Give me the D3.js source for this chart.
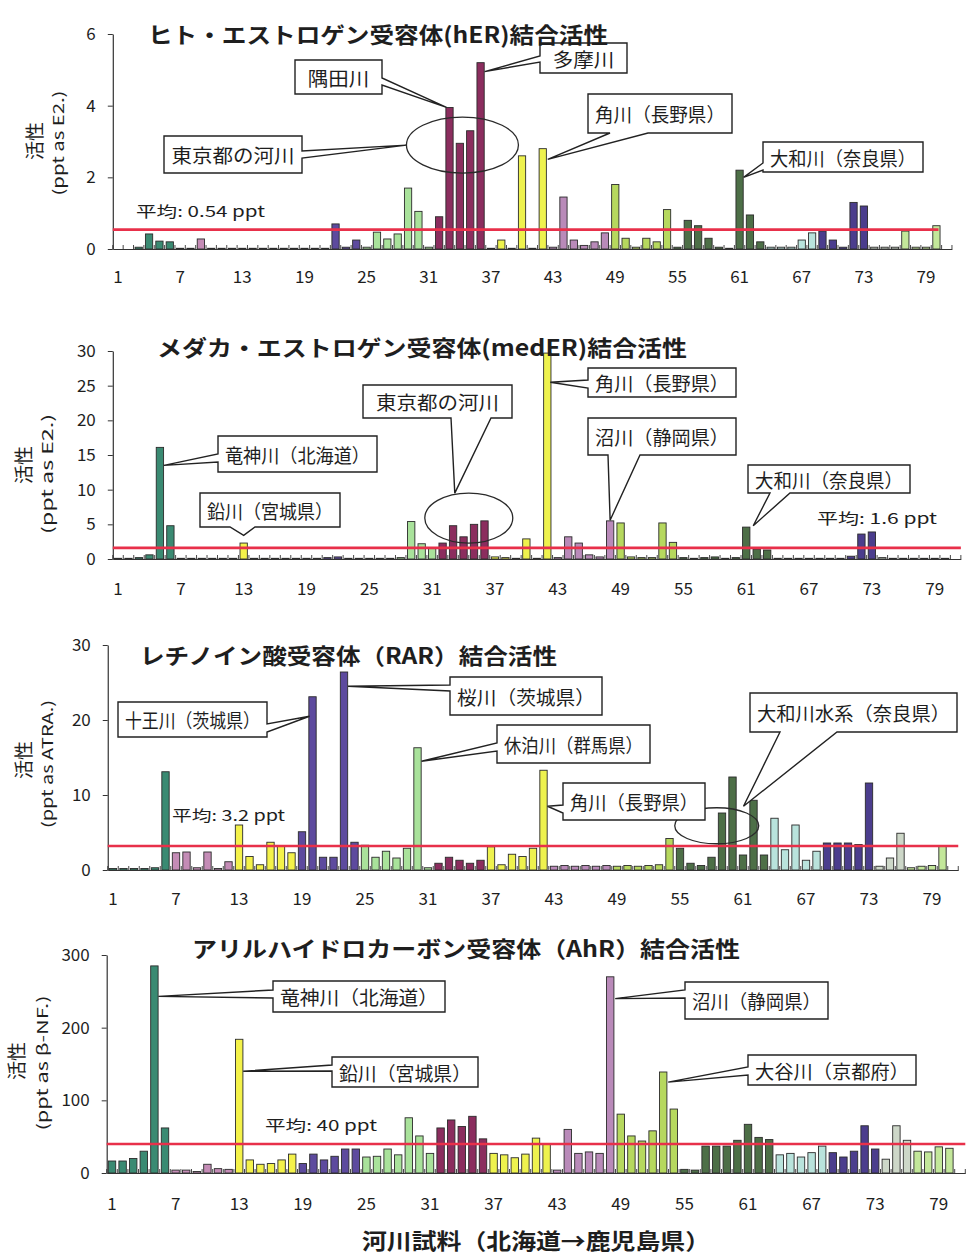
<!DOCTYPE html>
<html>
<head>
<meta charset="utf-8">
<script src="https://cdn.jsdelivr.net/npm/d3@7"></script>
<style>
  body { margin: 0; background: #fff; }
  svg text { font-family: "Noto Sans CJK JP", "Noto Sans", sans-serif; fill: #1e1e1e; }
</style>
</head>
<body>
<svg id="chart" width="970" height="1260"></svg>
<script>
// ---- data: 80 river samples, ordered Hokkaido -> Kagoshima ----
const samples = d3.range(1, 81);

// human estrogen receptor (hER) binding activity, ppt as E2
const herValues = [
  0, 0, 0.05, 0.42, 0.22, 0.2, 0.02, 0.02, 0.28, 0.02,
  0.02, 0.02, 0.02, 0.02, 0.02, 0.02, 0.02, 0.02, 0.02, 0.02,
  0.02, 0.7, 0.05, 0.25, 0.05, 0.47, 0.28, 0.42, 1.7, 1.05,
  0.05, 0.9, 3.95, 2.95, 3.3, 5.2, 0.02, 0.25, 0.02, 2.6,
  0.02, 2.8, 0.05, 1.45, 0.25, 0.1, 0.2, 0.45, 1.8, 0.3,
  0.05, 0.3, 0.2, 1.1, 0.05, 0.8, 0.65, 0.3, 0.05, 0.02,
  2.2, 0.95, 0.2, 0.05, 0.05, 0.05, 0.25, 0.45, 0.5, 0.25,
  0.05, 1.3, 1.2, 0.05, 0.05, 0.05, 0.5, 0.05, 0.05, 0.65
];
// medaka estrogen receptor (medER) binding activity, ppt as E2
const mederValues = [
  0.1, 0.1, 0.2, 0.6, 16.1, 4.8, 0.1, 0.1, 0.1, 0.1,
  0.1, 0.1, 2.3, 0.1, 0.1, 0.1, 0.1, 0.1, 0.1, 0.1,
  0.2, 0.3, 0.1, 0.1, 0.1, 0.1, 0.1, 0.2, 5.4, 2.2,
  1.5, 2.3, 4.8, 3.2, 5.0, 5.5, 0.3, 0.2, 0.1, 2.9,
  0.1, 29.7, 0.2, 3.2, 2.3, 0.6, 0.3, 5.5, 5.2, 0.3,
  0.2, 0.2, 5.2, 2.4, 0.2, 0.1, 0.2, 0.3, 0.1, 0.2,
  4.6, 1.4, 1.3, 0.1, 0.1, 0.1, 0.1, 0.1, 0.1, 0.1,
  0.4, 3.6, 3.9, 0.2, 0.1, 0.1, 0.1, 0.1, 0.1, 0.1
];
// retinoic acid receptor (RAR) binding activity, ppt as ATRA
const rarValues = [
  0.2, 0.2, 0.2, 0.2, 0.3, 13.1, 2.3, 2.4, 0.3, 2.4,
  0.2, 1.1, 6.0, 1.8, 0.7, 3.7, 3.2, 2.3, 5.1, 23.1,
  1.7, 1.7, 26.4, 3.7, 3.3, 1.7, 2.5, 1.6, 2.9, 16.3,
  0.3, 0.9, 1.7, 1.3, 0.9, 1.3, 3.1, 0.7, 2.1, 1.8,
  2.9, 13.3, 0.5, 0.6, 0.5, 0.6, 0.5, 0.6, 0.5, 0.6,
  0.5, 0.6, 0.7, 4.2, 2.9, 0.9, 0.6, 1.7, 7.6, 12.4,
  2.0, 9.3, 2.0, 6.9, 2.7, 6.0, 1.3, 2.5, 3.6, 3.6,
  3.6, 3.4, 11.6, 0.5, 1.6, 4.9, 0.3, 0.5, 0.6, 3.2
];
// aryl hydrocarbon receptor (AhR) binding activity, ppt as beta-NF
const ahrValues = [
  16.5, 16.5, 20, 30, 285, 62, 4, 4, 2, 12,
  6, 5, 184, 18, 12, 13, 18, 26, 13, 26,
  18, 23, 33, 33, 22, 23, 33, 25, 76, 51,
  27, 62, 73, 64, 78, 47, 27, 25, 21, 26,
  48, 40, 4, 60, 27, 29, 27, 270, 81, 51,
  44, 58, 139, 88, 5, 4, 37, 37, 37, 45,
  67, 49, 46, 25, 27, 22, 28, 37, 28, 22,
  30, 65, 33, 19, 65, 45, 30, 29, 36, 34
];

const herMean = 0.54, mederMean = 1.6, rarMean = 3.2, ahrMean = 40;

const xTickLabels = [1, 7, 13, 19, 25, 31, 37, 43, 49, 55, 61, 67, 73, 79];
const herTicks = [0, 2, 4, 6];
const mederTicks = [0, 5, 10, 15, 20, 25, 30];
const rarTicks = [0, 10, 20, 30];
const ahrTicks = [0, 100, 200, 300];

const chartTitles = [
  "ヒト・エストロゲン受容体(hER)結合活性",
  "メダカ・エストロゲン受容体(medER)結合活性",
  "レチノイン酸受容体（RAR）結合活性",
  "アリルハイドロカーボン受容体（AhR）結合活性"
];
const yUnits = ["(ppt as E2.)", "(ppt as E2.)", "(ppt as ATRA.)", "(ppt as β-NF.)"];
const meanLabels = ["平均: 0.54 ppt", "平均: 1.6 ppt", "平均: 3.2 ppt", "平均: 40 ppt"];
const xTitle = "河川試料（北海道→鹿児島県）";

// first sample number of each regional block
const regionStarts = [1, 7, 13, 19, 25, 32, 37, 43, 49, 55, 64, 69, 74, 77];

// ---- styles ----
const regionColors = [
  "#3a8a72", "#c48cb6", "#f4f24a", "#5d4a9e", "#a9e29b", "#8b2d5e", "#eef24e",
  "#b98ab9", "#b6d85e", "#4d6f47", "#b9e3dc", "#4b3d8d", "#cdd7c8", "#c3e79a"
];
const regionColor = s => regionColors[d3.bisectRight(regionStarts, s) - 1];

// ---- layout of the four panels ----
const panels = [
  {
    values: herValues, mean: herMean, ticks: herTicks, yMax: 6,
    x0: 112.8, step: 10.36, y0: 249, yTop: 34, labelY: 35, meanEnd: 80.2,
    title: { x: 148, y: 43, w: 460 },
    yLab: { x: 33, y: 141 }, unit: { x: 57, y: 143, len: 105 },
    meanText: { x: 136, y: 217, w: 129 },
    ellipses: [{ s0: 32.5, s1: 36, v: 2.9, rx: 56, ry: 28 }],
    callouts: [
      { text: "隅田川", box: [295, 60, 87, 34], side: "right", a: 18, b: 25, tip: { s: 33, v: 3.95, dx: -3 } },
      { text: "東京都の河川", box: [164, 136, 138, 37], side: "right", a: 15, b: 22, tip: { ellipse: 0, at: "left", dx: 0 } },
      { text: "多摩川", box: [540, 43, 87, 30], side: "left", a: 13, b: 19, tip: { s: 36, v: 4.95, dx: 4 } },
      { text: "角川（長野県）", box: [588, 94, 144, 39], side: "bottom", a: 22, b: 60, tip: { s: 42, v: 2.5, dx: 5 } },
      { text: "大和川（奈良県）", box: [763, 142, 160, 30], side: "left", a: 21, b: 28, tip: { s: 61, v: 2.0, dx: 4 } }
    ]
  },
  {
    values: mederValues, mean: mederMean, ticks: mederTicks, yMax: 30,
    x0: 112.8, step: 10.47, y0: 559, yTop: 351, labelY: 37, meanEnd: 81.5,
    title: { x: 157, y: 356, w: 530 },
    yLab: { x: 22, y: 465 }, unit: { x: 46, y: 474, len: 120 },
    meanText: { x: 817, y: 524, w: 120 },
    ellipses: [{ s0: 33, s1: 36, v: 5.9, rx: 44, ry: 25 }],
    callouts: [
      { text: "竜神川（北海道）", box: [218, 436, 159, 36], side: "left", a: 18, b: 26, tip: { s: 5, v: 13.5, dx: 4 } },
      { text: "鉛川（宮城県）", box: [200, 493, 140, 34], side: "bottom", a: 30, b: 55, tip: { s: 13, v: 3.4, dx: 0 } },
      { text: "東京都の河川", box: [363, 385, 149, 33], side: "bottom", a: 88, b: 128, tip: { ellipse: 0, at: "top", dx: -14 } },
      { text: "角川（長野県）", box: [588, 368, 148, 29], side: "left", a: 12, b: 20, tip: { s: 42, v: 25.5, dx: 3 } },
      { text: "沼川（静岡県）", box: [588, 418, 148, 37], side: "bottom", a: 20, b: 52, tip: { s: 48, v: 5.6, dx: 0 } },
      { text: "大和川（奈良県）", box: [748, 465, 162, 28], side: "bottom", a: 22, b: 42, tip: { s: 61, v: 4.8, dx: 7 } }
    ]
  },
  {
    values: rarValues, mean: rarMean, ticks: rarTicks, yMax: 30,
    x0: 107.75, step: 10.5, y0: 870, yTop: 645, labelY: 36, meanEnd: 81.5,
    title: { x: 140, y: 664, w: 417 },
    yLab: { x: 22, y: 760 }, unit: { x: 46, y: 764, len: 128 },
    meanText: { x: 172, y: 821, w: 113 },
    ellipses: [{ s0: 57, s1: 60, v: 5.9, rx: 42, ry: 18 }],
    callouts: [
      { text: "十王川（茨城県）", box: [118, 702, 149, 35], side: "right", a: 22, b: 30, tip: { s: 20, v: 20.5, dx: -3 } },
      { text: "桜川（茨城県）", box: [450, 677, 152, 38], side: "left", a: 8, b: 14, tip: { s: 23, v: 24.5, dx: 4 } },
      { text: "休泊川（群馬県）", box: [497, 725, 153, 38], side: "left", a: 18, b: 26, tip: { s: 30, v: 14.5, dx: 4 } },
      { text: "角川（長野県）", box: [563, 783, 142, 37], side: "left", a: 22, b: 30, tip: { s: 42, v: 8.5, dx: 4 } },
      { text: "大和川水系（奈良県）", box: [750, 693, 207, 39], side: "bottom", a: 30, b: 87, tip: { s: 62, v: 8.5, dx: -10 } }
    ]
  },
  {
    values: ahrValues, mean: ahrMean, ticks: ahrTicks, yMax: 300,
    x0: 106.7, step: 10.6, y0: 1173, yTop: 955, labelY: 38, meanEnd: 81.5,
    title: { x: 192, y: 957, w: 548 },
    yLab: { x: 15, y: 1061 }, unit: { x: 41, y: 1063, len: 135 },
    meanText: { x: 265, y: 1131, w: 112 },
    ellipses: [],
    callouts: [
      { text: "竜神川（北海道）", box: [273, 981, 172, 31], side: "left", a: 9, b: 17, tip: { s: 5, v: 243, dx: 4 } },
      { text: "鉛川（宮城県）", box: [332, 1057, 146, 30], side: "left", a: 8, b: 14, tip: { s: 13, v: 140, dx: 4 } },
      { text: "沼川（静岡県）", box: [685, 982, 143, 37], side: "left", a: 8, b: 16, tip: { s: 48, v: 240, dx: 5 } },
      { text: "大谷川（京都府）", box: [748, 1055, 168, 30], side: "left", a: 12, b: 20, tip: { s: 53, v: 125, dx: 5 } }
    ]
  }
];

const svg = d3.select("#chart");
const INK = "#1e1e1e";
const NUM_FONT = '"Liberation Sans", Arial, sans-serif';

// rectangle callout outline with a pointed wedge on one side
function calloutPath(bx, by, w, h, side, a, b, tx, ty) {
  const pts = [[bx, by]];
  if (side === "top") pts.push([bx + a, by], [tx, ty], [bx + b, by]);
  pts.push([bx + w, by]);
  if (side === "right") pts.push([bx + w, by + a], [tx, ty], [bx + w, by + b]);
  pts.push([bx + w, by + h]);
  if (side === "bottom") pts.push([bx + b, by + h], [tx, ty], [bx + a, by + h]);
  pts.push([bx, by + h]);
  if (side === "left") pts.push([bx, by + b], [tx, ty], [bx, by + a]);
  return "M" + pts.map(p => p.join(",")).join("L") + "Z";
}

panels.forEach((p, pi) => {
  const g = svg.append("g");
  const slots = d3.range(1, 82);   // one empty slot after the last sample
  const x = d3.scaleBand()
    .domain(slots)
    .range([p.x0, p.x0 + slots.length * p.step])
    .paddingInner(0.3)
    .paddingOuter(0.15);
  const y = d3.scaleLinear().domain([0, p.yMax]).range([p.y0, p.yTop]);
  const bw = x.bandwidth();
  const pos = d3.scaleLinear().domain([1, 81]).range([x(1) + bw / 2, x(81) + bw / 2]);

  // bars
  g.append("g").selectAll("rect")
    .data(samples.map((s, i) => ({ s, v: p.values[i] })))
    .join("rect")
    .attr("x", d => x(d.s))
    .attr("y", d => y(d.v))
    .attr("width", bw)
    .attr("height", d => y(0) - y(d.v))
    .attr("fill", d => regionColor(d.s))
    .attr("stroke", "#2b2b2b")
    .attr("stroke-width", 0.9);

  // y axis
  const yAxis = g.append("g")
    .attr("transform", `translate(${p.x0},0)`)
    .call(d3.axisLeft(y).tickValues(p.ticks).tickSize(5).tickSizeOuter(0).tickPadding(12).tickFormat(d3.format("d")));
  yAxis.select(".domain").attr("stroke", "#333").attr("stroke-width", 1.2);
  yAxis.selectAll(".tick line").attr("stroke", "#333");
  yAxis.selectAll(".tick text").attr("font-family", NUM_FONT).attr("font-size", 17).style("fill", INK);

  // x axis: baseline, category ticks, sample numbers
  const xAxis = g.append("g")
    .attr("transform", `translate(0,${p.y0})`)
    .call(d3.axisBottom(x).tickValues(xTickLabels).tickSize(0).tickSizeOuter(0).tickPadding(p.labelY - 13));
  xAxis.select(".domain").attr("stroke", "#333").attr("stroke-width", 1.2);
  xAxis.selectAll(".tick text").attr("font-family", NUM_FONT).attr("font-size", 17).style("fill", INK);
  g.append("g").selectAll("line")
    .data(d3.range(0, slots.length + 1))
    .join("line")
    .attr("x1", k => x.range()[0] + k * x.step())
    .attr("x2", k => x.range()[0] + k * x.step())
    .attr("y1", p.y0)
    .attr("y2", p.y0 - 4)
    .attr("stroke", "#333")
    .attr("stroke-width", 0.9);

  // mean line
  g.append("line")
    .attr("x1", p.x0)
    .attr("x2", p.meanEnd > 81 ? x.range()[1] : pos(p.meanEnd))
    .attr("y1", y(p.mean))
    .attr("y2", y(p.mean))
    .attr("stroke", "#e8304a")
    .attr("stroke-width", 2.6);

  // ellipses circling groups of bars
  const ells = p.ellipses.map(e => ({ cx: (pos(e.s0) + pos(e.s1)) / 2, cy: y(e.v), rx: e.rx, ry: e.ry }));
  g.append("g").selectAll("ellipse")
    .data(ells)
    .join("ellipse")
    .attr("cx", e => e.cx).attr("cy", e => e.cy)
    .attr("rx", e => e.rx).attr("ry", e => e.ry)
    .attr("fill", "none")
    .attr("stroke", "#2a2a2a")
    .attr("stroke-width", 1.3);

  // callouts
  p.callouts.forEach(c => {
    let tx, ty;
    if (c.tip.ellipse !== undefined) {
      const e = ells[c.tip.ellipse];
      if (c.tip.at === "left") { tx = e.cx - e.rx; ty = e.cy; }
      else { tx = e.cx; ty = e.cy - e.ry; }
      tx += c.tip.dx;
    } else {
      tx = pos(c.tip.s) + c.tip.dx;
      ty = y(c.tip.v);
    }
    const [bx, by, w, h] = c.box;
    g.append("path")
      .attr("d", calloutPath(bx, by, w, h, c.side, c.a, c.b, tx, ty))
      .attr("fill", "#fff")
      .attr("stroke", "#222")
      .attr("stroke-width", 1.4)
      .attr("stroke-linejoin", "miter");
    const n = Array.from(c.text).length;
    g.append("text")
      .attr("x", bx + w / 2)
      .attr("y", by + h / 2)
      .attr("text-anchor", "middle")
      .attr("dominant-baseline", "central")
      .attr("font-size", 19)
      .attr("textLength", Math.min(w - 14, n * 20.5))
      .attr("lengthAdjust", "spacingAndGlyphs")
      .text(c.text);
  });

  // mean label
  g.append("text")
    .attr("x", p.meanText.x)
    .attr("y", p.meanText.y)
    .attr("font-size", 15)
    .attr("textLength", p.meanText.w)
    .attr("lengthAdjust", "spacingAndGlyphs")
    .text(meanLabels[pi]);

  // panel title
  g.append("text")
    .attr("x", p.title.x)
    .attr("y", p.title.y)
    .attr("font-size", 22)
    .attr("font-weight", 700)
    .attr("textLength", p.title.w)
    .attr("lengthAdjust", "spacingAndGlyphs")
    .text(chartTitles[pi]);

  // y axis titles (rotated)
  g.append("text")
    .attr("transform", `translate(${p.yLab.x},${p.yLab.y}) rotate(-90)`)
    .attr("text-anchor", "middle")
    .attr("dominant-baseline", "central")
    .attr("font-size", 19)
    .text("活性");
  g.append("text")
    .attr("transform", `translate(${p.unit.x},${p.unit.y}) rotate(-90)`)
    .attr("text-anchor", "middle")
    .attr("dominant-baseline", "central")
    .attr("font-size", 15)
    .attr("textLength", p.unit.len)
    .attr("lengthAdjust", "spacingAndGlyphs")
    .text(yUnits[pi]);
});

// shared x axis title
svg.append("text")
  .attr("x", 362)
  .attr("y", 1249)
  .attr("font-size", 22)
  .attr("font-weight", 700)
  .attr("textLength", 348)
  .attr("lengthAdjust", "spacingAndGlyphs")
  .text(xTitle);
</script>
</body>
</html>
